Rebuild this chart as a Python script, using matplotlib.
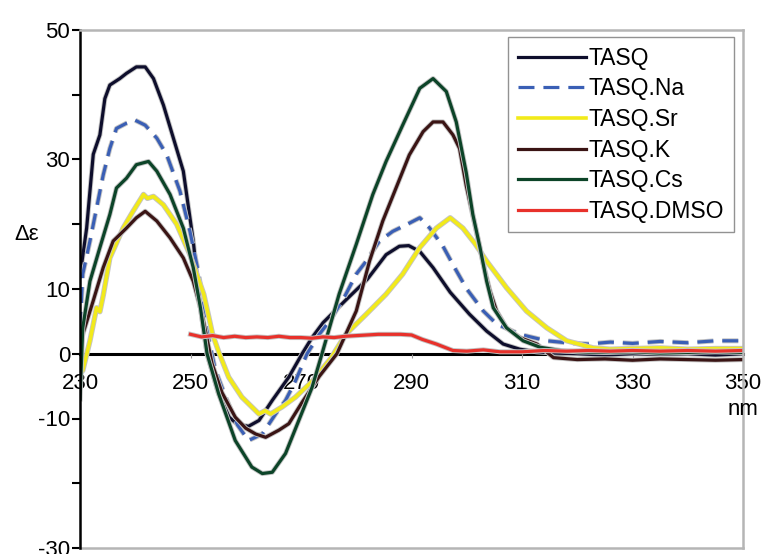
import matplotlib
matplotlib.use("Agg")
import matplotlib.pyplot as plt
import matplotlib.patheffects as pe

plt.rcParams['font.family'] = ['Liberation Sans', 'DejaVu Sans']

# ---- data ----
tasq_nm = [230, 231.2, 232.4, 233.6, 234.5, 235.4, 237.2, 238.4, 240.2, 241.8, 243.3, 245.1, 246.9, 248.7,
           250.5, 251.8, 253, 255, 257, 258.5, 260.5, 262.4, 264.8, 267.8, 270.2, 272, 274, 278, 282, 285.4,
           287.8, 289.5, 291.5, 293.9, 297, 300.5, 303.6, 306.6, 309.6, 312.6, 316, 320, 325, 330, 335, 340, 345, 350]
tasq_val = [12, 19.4, 30.8, 33.8, 39.4, 41.5, 42.5, 43.3, 44.3, 44.3, 42.5, 38.4, 33.3, 28.2,
            17.4, 7.1, 0, -6, -9.8, -10.9, -11.2, -10.3, -7.2, -3.6, 0, 2.5, 4.8, 8.2, 11.5, 15.3,
            16.6, 16.7, 15.8, 13.3, 9.5, 6.1, 3.5, 1.5, 0.7, 0.3, 0.1, 0.0, -0.2, 0.0, -0.1, 0.0, -0.2, 0.0]

na_nm = [230, 230.5, 231.8, 233, 234.2, 235.4, 236.6, 238.4, 239.9, 241.8, 243.9, 245.7, 248.1, 249.9, 251.5,
         252.7, 254.5, 256.5, 258.5, 260.5, 263, 265.4, 267.2, 269, 271.1, 273.3, 275.4, 278, 280, 281.8, 284.2,
         286.6, 289, 291.5, 293.3, 295.7, 298, 300, 303, 305.4, 309.6, 314.5, 318, 322, 326, 330, 335, 340, 345, 350]
na_val = [4, 12.3, 17.4, 22.5, 27.6, 31.7, 34.8, 35.6, 36.1, 35.3, 33.3, 30.7, 25.1, 18.9, 12.3,
          4.6, -2.5, -7, -11, -13.4, -12.4, -9.3, -7.2, -4.2, 0, 3, 5.3, 9, 12.3, 14.3, 17.4,
          18.9, 19.9, 21, 19.4, 16.6, 13, 10, 6.6, 4.6, 3, 2, 1.7, 1.5, 1.8, 1.6, 1.9, 1.7, 2.0, 2.0]

sr_nm = [230, 230.5, 231.8, 233, 233.6, 234.2, 235.4, 237.8, 239.6, 241.5, 242.2, 243.3, 245.1, 247.5, 249.9,
         252.4, 254, 255.1, 256.9, 259.3, 262.4, 263.5, 264.5, 266.6, 269, 272.1, 275.4, 278.1, 281.8, 285.4,
         288.4, 291.5, 294.5, 297, 299.3, 301.5, 303.6, 307.2, 310.8, 314.5, 318.1, 322.9, 326, 330, 335, 340, 345, 350]
sr_val = [-3, -2.6, 2, 7.1, 6.5, 9, 14.8, 19.4, 22, 24.6, 24, 24.3, 23, 20, 15.3,
          9.2, 3, 0.3, -3.6, -6.7, -9.3, -8.8, -9.3, -8.2, -6.7, -4.2, -0.7, 3, 6.1, 9.2,
          12.3, 16.4, 19.4, 21, 19.4, 17, 14.3, 10.2, 6.6, 4, 2, 0.9, 0.7, 0.8, 0.9, 0.7, 0.8, 0.8]

k_nm = [230, 230.5, 232.4, 234.2, 236, 238.4, 240.2, 241.8, 243.9, 246.3, 248.7, 250.5, 252.1, 253.9, 255.7,
        258.1, 260, 261.8, 263.6, 266, 267.8, 270.2, 273.3, 276.5, 280, 282.4, 284.8, 287.2, 289.6, 292.1,
        293.9, 295.7, 297.5, 298.7, 299.9, 301.7, 303, 304.2, 305.4, 307.2, 309.6, 312.7, 315.7, 320, 325,
        330, 335, 340, 345, 350]
k_val = [0, 3, 8.2, 13.3, 17.4, 19.4, 21, 22, 20.5, 17.9, 14.8, 11.2, 6.1, -1.5, -6,
         -9.8, -11.5, -12.4, -12.9, -11.8, -10.8, -7.5, -3.5, 0, 6.6, 14.3, 20.5, 25.6, 30.7, 34.3,
         35.8, 35.8, 33.8, 31.7, 26, 19, 13.8, 9.7, 6.6, 4, 2.5, 1.5, -0.6, -0.9, -0.8,
         -1.0, -0.8, -0.9, -1.0, -0.9]

cs_nm = [230, 230.5, 231.8, 233.6, 235.4, 236.6, 238.4, 240.2, 242.4, 243.9, 246.3, 248.7, 250.5, 251.8, 253,
         255.1, 258.1, 261.1, 263, 264.8, 267.2, 269.6, 272, 273.8, 276.9, 280, 283, 285.4, 288.4, 291.5,
         293.9, 296.3, 298.1, 299.9, 301.1, 302.4, 303.6, 304.8, 307.2, 310.2, 313.3, 317, 320, 325, 330,
         335, 340, 345, 350]
cs_val = [-7, 4, 11.2, 16.4, 21.5, 25.6, 27.1, 29.2, 29.7, 28.2, 24.6, 19.4, 13.3, 7.1, 0,
          -6.2, -13.4, -17.5, -18.5, -18.3, -15.4, -10.3, -5.2, 0, 9.2, 16.9, 24.6, 29.7, 35.3, 41,
          42.5, 40.5, 35.8, 28, 21.5, 16.4, 11.2, 7.1, 4, 2, 1, 0.5, 0.3, 0.2, 0.3,
          0.1, 0.2, 0.3, 0.2]

dmso_nm = [250, 252, 254, 256, 258, 260, 262, 264, 266, 268, 270, 272, 274, 276, 278, 280, 282, 284, 286, 288,
           290, 292, 294.5, 296, 297.5, 300, 303, 306, 310, 314, 318, 322, 326, 330, 335, 340, 345, 350]
dmso_val = [3, 2.6, 2.8, 2.5, 2.7, 2.5, 2.6, 2.5, 2.7, 2.5, 2.5, 2.4, 2.6, 2.5, 2.7, 2.8, 2.9, 3.0, 3.0, 3.0,
            2.9, 2.2, 1.5, 1.0, 0.5, 0.4, 0.6, 0.3, 0.3, 0.5, 0.4, 0.5, 0.4, 0.5, 0.4, 0.5, 0.4, 0.5]

labels = ['TASQ', 'TASQ.Na', 'TASQ.Sr', 'TASQ.K', 'TASQ.Cs', 'TASQ.DMSO']
colors = ['#0e0e2c', '#3a5fb5', '#f2ea1a', '#3a1414', '#0c4428', '#e8312b']

xticks = [230, 250, 270, 290, 310, 330, 350]
yticks = [-30, -20, -10, 0, 10, 20, 30, 40, 50]
ytick_labels = ['-30', '', '-10', '0', '10', '', '30', '', '50']

FS = 16
FS_LEG = 16.5

# ---- figure ----
fig = plt.figure(figsize=(7.68, 5.54), dpi=100)
ax = fig.add_axes([80 / 768, 1 - 548 / 554, 663 / 768, 518 / 554])

series = [(tasq_nm, tasq_val), (na_nm, na_val), (sr_nm, sr_val),
          (k_nm, k_val), (cs_nm, cs_val), (dmso_nm, dmso_val)]
for (xs, ys), lab, col in zip(series, labels, colors):
    lw = 2.3 if lab != 'TASQ.Sr' else 2.6
    kw = {}
    if lab == 'TASQ.Na':
        kw['dashes'] = (5, 2.8)
    ax.plot(xs, ys, color=col, lw=lw, label=lab, solid_joinstyle='round',
            path_effects=[pe.Stroke(linewidth=lw + 1.3, foreground='#c4c4c4'), pe.Normal()], **kw)

ax.set_xlim(230, 350)
ax.set_ylim(-30, 50)

# spines: left black, x-axis at zero, grey frame
ax.spines['left'].set_color('black')
ax.spines['left'].set_linewidth(1.8)
ax.spines['bottom'].set_position(('data', 0))
ax.spines['bottom'].set_color('black')
ax.spines['bottom'].set_linewidth(2.2)
ax.spines['bottom'].set_zorder(1)
for s in ['top', 'right']:
    ax.spines[s].set_color('#b5b5b5')
    ax.spines[s].set_linewidth(1.8)
ax.axhline(-30, color='#b5b5b5', lw=1.8, clip_on=False)

ax.set_xticks(xticks)
ax.set_xticklabels([str(t) for t in xticks])
ax.set_yticks(yticks)
ax.set_yticklabels(ytick_labels)
ax.tick_params(axis='x', length=3, width=0.8, color='#999999', pad=11, labelsize=FS)
ax.tick_params(axis='y', length=6, width=1.5, color='black', pad=1, labelsize=FS)

ax.text(350, -8.6, 'nm', ha='center', va='center', fontsize=FS)
ax.text(-0.08, 0.605, 'Δε', transform=ax.transAxes, ha='center', va='center', fontsize=FS)

leg = ax.legend(loc='upper right', bbox_to_anchor=(0.986, 0.986), bbox_transform=ax.transAxes,
                fontsize=FS_LEG, frameon=True, fancybox=False, handlelength=3.0, handletextpad=0.1,
                labelspacing=0.33, borderpad=0.42, borderaxespad=0)
leg.get_frame().set_edgecolor('#777777')
leg.get_frame().set_linewidth(1.0)
for h in leg.get_lines():
    h.set_path_effects([])

fig.savefig('out.png', dpi=100)
